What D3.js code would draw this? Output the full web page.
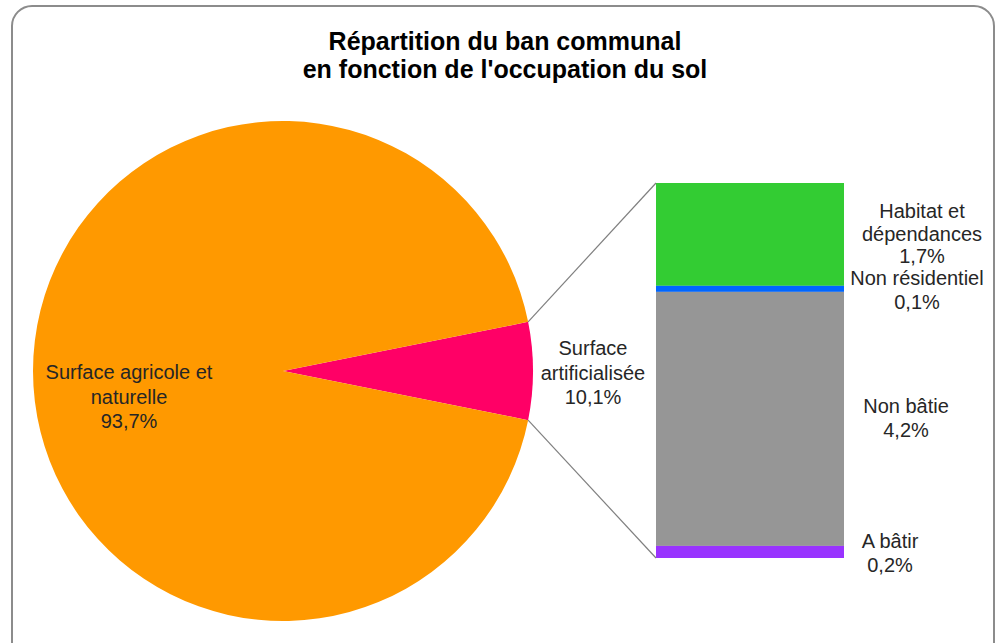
<!DOCTYPE html>
<html>
<head>
<meta charset="utf-8">
<script src="https://cdn.jsdelivr.net/npm/d3@7"></script>
<style>
  body { margin: 0; background: #fff; }
  text { font-family: "Liberation Sans", Arial, sans-serif; }
</style>
</head>
<body>
<svg width="1005" height="643"></svg>
<script>
// pie data (main split)
var pieLabels = ["Surface artificialisée", "Surface agricole et naturelle"];
var pieValues = [6.3, 93.7];
var pieTexts = ["10,1%", "93,7%"];
var pieColors = ["#ff0066", "#ff9900"];

// stacked bar (detail of artificial surface), top to bottom
var barLabels = ["Habitat et dépendances", "Non résidentiel", "Non bâtie", "A bâtir"];
var barValues = [1.7, 0.1, 4.2, 0.2];
var barTexts = ["1,7%", "0,1%", "4,2%", "0,2%"];
var barColors = ["#33cc33", "#0066ff", "#969696", "#9933ff"];

var svg = d3.select("svg");

// frame
svg.append("rect")
    .attr("x", 12).attr("y", 6)
    .attr("width", 982).attr("height", 660)
    .attr("rx", 20).attr("ry", 20)
    .attr("fill", "#fff")
    .attr("stroke", "#8c8c8c")
    .attr("stroke-width", 2);

// title
var title = svg.append("text")
    .attr("text-anchor", "middle")
    .attr("font-size", 25)
    .attr("font-weight", "bold")
    .attr("fill", "#000");
title.append("tspan").attr("x", 505).attr("y", 50).text("Répartition du ban communal");
title.append("tspan").attr("x", 505).attr("y", 78).text("en fonction de l'occupation du sol");

// pie
var cx = 283, cy = 371, r = 250;
var total = d3.sum(pieValues);
var pinkAngle = pieValues[0] / total * 2 * Math.PI;
var pie = d3.pie().sort(null)
    .startAngle(Math.PI / 2 - pinkAngle / 2)
    .endAngle(Math.PI / 2 - pinkAngle / 2 + 2 * Math.PI);
var arcs = pie(pieValues);
var arc = d3.arc().innerRadius(0).outerRadius(r);

var gPie = svg.append("g").attr("transform", "translate(" + cx + "," + cy + ")");
gPie.selectAll("path")
    .data(arcs)
    .enter()
    .append("path")
    .attr("d", arc)
    .attr("fill", function(d, i) { return pieColors[i]; });

// bar
var barX = 656, barW = 188, barTop = 183, barBottom = 558;
var y = d3.scaleLinear().domain([0, d3.sum(barValues)]).range([barTop, barBottom]);
var cum = 0;
var stack = barValues.map(function(v) {
    var o = { y0: cum, y1: cum + v };
    cum += v;
    return o;
});

svg.append("g").selectAll("rect")
    .data(stack)
    .enter()
    .append("rect")
    .attr("x", barX)
    .attr("width", barW)
    .attr("y", function(d) { return y(d.y0); })
    .attr("height", function(d) { return y(d.y1) - y(d.y0); })
    .attr("fill", function(d, i) { return barColors[i]; });

// connector lines from slice corners to bar
var a0 = arcs[0].startAngle, a1 = arcs[0].endAngle;
function corner(a) {
    return [cx + r * Math.sin(a), cy - r * Math.cos(a)];
}
var p0 = corner(a0), p1 = corner(a1);
svg.append("line")
    .attr("x1", p0[0]).attr("y1", p0[1])
    .attr("x2", barX).attr("y2", y(0))
    .attr("stroke", "#7f7f7f").attr("stroke-width", 1.2);
svg.append("line")
    .attr("x1", p1[0]).attr("y1", p1[1])
    .attr("x2", barX).attr("y2", y(d3.sum(barValues)))
    .attr("stroke", "#7f7f7f").attr("stroke-width", 1.2);

// labels
function multiLabel(x, ys, lines) {
    var t = svg.append("text")
        .attr("text-anchor", "middle")
        .attr("font-size", 20)
        .attr("fill", "#262626");
    lines.forEach(function(l, i) {
        t.append("tspan").attr("x", x).attr("y", ys[i] + 7).text(l);
    });
}

multiLabel(129, [372, 397, 421], ["Surface agricole et", "naturelle", pieTexts[1]]);
multiLabel(593, [348, 373, 397], ["Surface", "artificialisée", pieTexts[0]]);

multiLabel(922, [211, 234, 256], ["Habitat et", "dépendances", barTexts[0]]);
multiLabel(917, [278, 302], [barLabels[1], barTexts[1]]);
multiLabel(906, [406, 430], [barLabels[2], barTexts[2]]);
multiLabel(890, [541, 565], [barLabels[3], barTexts[3]]);
</script>
</body>
</html>
